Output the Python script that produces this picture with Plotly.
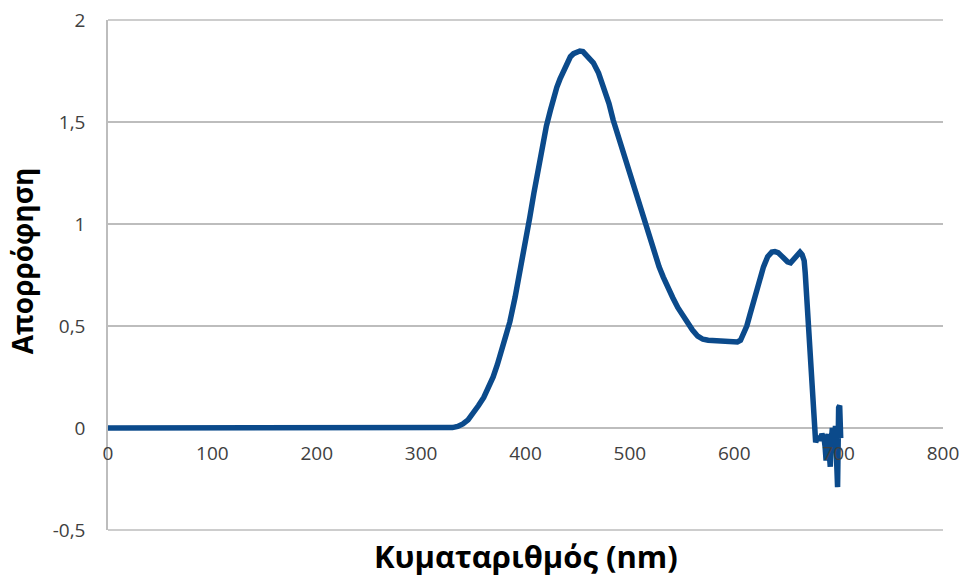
import plotly.graph_objects as go

wavelength = [0, 50, 100, 150, 190, 195, 215, 222, 260, 265, 275, 280, 300, 320, 330,
              335, 340, 345, 350, 355, 360, 365, 369, 373, 377, 381, 385, 390, 395, 400,
              404, 408, 412, 416, 420, 424, 427, 430, 433, 437, 440, 443, 446, 449, 452,
              455, 458, 461, 465, 470, 475, 480, 484, 488, 492, 496, 500, 504, 508, 512,
              516, 520, 524, 528, 532, 536, 541, 546, 551, 556, 560, 565, 570, 575, 580,
              585, 590, 595, 600, 603, 606, 609, 612, 615, 618, 621, 624, 628, 632, 636,
              639, 642, 645, 648, 651, 654, 657, 660, 663, 665, 667, 668, 669, 670, 671,
              672, 673, 674, 675, 676, 677, 678, 680, 682, 684, 686, 687, 688, 689, 690,
              691, 692, 693, 694, 695, 696, 697, 698, 699, 700, 701, 702]
absorbance = [0, 0, 0, 0, 0, -0.004, -0.004, 0, 0, -0.004, -0.004, 0, 0, 0, 0.002,
              0.008, 0.02, 0.04, 0.07, 0.11, 0.15, 0.2, 0.25, 0.31, 0.38, 0.45, 0.52, 0.64, 0.77, 0.91,
              1.03, 1.15, 1.27, 1.38, 1.48, 1.56, 1.62, 1.67, 1.71, 1.76, 1.79, 1.82, 1.835, 1.845, 1.848,
              1.845, 1.83, 1.815, 1.79, 1.74, 1.67, 1.59, 1.51, 1.445, 1.38, 1.315, 1.25, 1.18, 1.11, 1.04,
              0.97, 0.91, 0.85, 0.79, 0.74, 0.69, 0.64, 0.59, 0.546, 0.51, 0.48, 0.45, 0.435, 0.43, 0.428,
              0.425, 0.425, 0.42, 0.42, 0.422, 0.43, 0.46, 0.5, 0.555, 0.61, 0.665, 0.71, 0.79, 0.84, 0.862,
              0.865, 0.86, 0.845, 0.83, 0.815, 0.81, 0.825, 0.845, 0.862, 0.85, 0.82, 0.76, 0.68, 0.6, 0.53,
              0.45, 0.38, 0.3, 0.2, 0.08, -0.03, -0.07, -0.04, -0.06, -0.03, -0.05, -0.09, -0.16, -0.05, -0.03,
              -0.12, -0.19, -0.06, 0.0, -0.1, -0.04, 0.01, -0.15, -0.29, 0.1, 0.11, -0.05]

ytick_vals = [-0.5, 0, 0.5, 1, 1.5, 2]
ytick_text = ["-0,5", "0", "0,5", "1", "1,5", "2"]
xtick_vals = [0, 100, 200, 300, 400, 500, 600, 700, 800]
xtick_text = ["0", "100", "200", "300", "400", "500", "600", "700", "800"]

FONT = "Open Sans"
GRID = "#BDBDBD"
fig = go.Figure()

# edge gridlines (plotly hides grid lines that sit exactly on the plot border)
for edge in (0, 1):
    fig.add_shape(type="line", xref="paper", yref="paper", x0=0, x1=1, y0=edge, y1=edge,
                  line=dict(color=GRID, width=1.5), layer="below")

fig.add_trace(go.Scatter(
    x=wavelength, y=absorbance, mode="lines",
    line=dict(color="#0B4A8B", width=5.5),
    hoverinfo="skip", showlegend=False,
))

fig.update_layout(
    width=966, height=577, autosize=False,
    margin=dict(l=108, r=23, t=20, b=47, autoexpand=False),
    paper_bgcolor="white", plot_bgcolor="white",
    showlegend=False,
    xaxis=dict(
        range=[0, 800], tickvals=xtick_vals, ticktext=xtick_text,
        anchor="free", position=0.2, automargin=False,
        showgrid=False, zeroline=False, showline=False,
        ticks="outside", ticklen=8, tickcolor="rgba(0,0,0,0)",
        tickfont=dict(family=FONT, size=19, color="#404040"),
    ),
    yaxis=dict(
        range=[-0.5, 2], tickvals=ytick_vals, ticktext=ytick_text, automargin=False,
        showgrid=True, gridcolor=GRID, gridwidth=1.5,
        zeroline=False, showline=True, linecolor=GRID, linewidth=1.5,
        ticks="outside", ticklen=17, tickcolor="rgba(0,0,0,0)",
        tickfont=dict(family=FONT, size=19, color="#404040"),
    ),
    annotations=[
        dict(text="<b>Κυματαριθμός (nm)</b>", xref="paper", yref="paper",
             x=0.5, y=-0.051, xanchor="center", yanchor="middle", showarrow=False,
             font=dict(family=FONT, size=31, color="black")),
        dict(text="<b>Απορρόφηση</b>", xref="paper", yref="paper",
             x=-0.103, y=0.529, xanchor="center", yanchor="middle", showarrow=False,
             textangle=-90, font=dict(family=FONT, size=28, color="black")),
    ],
)

fig.write_html("out.html", config={"displayModeBar": False})
with open("out.html", encoding="utf-8") as f:
    html = f.read()
html = html.replace("<head>", "<head><style>html,body{margin:0;padding:0;overflow:hidden;}</style>", 1)
with open("out.html", "w", encoding="utf-8") as f:
    f.write(html)
